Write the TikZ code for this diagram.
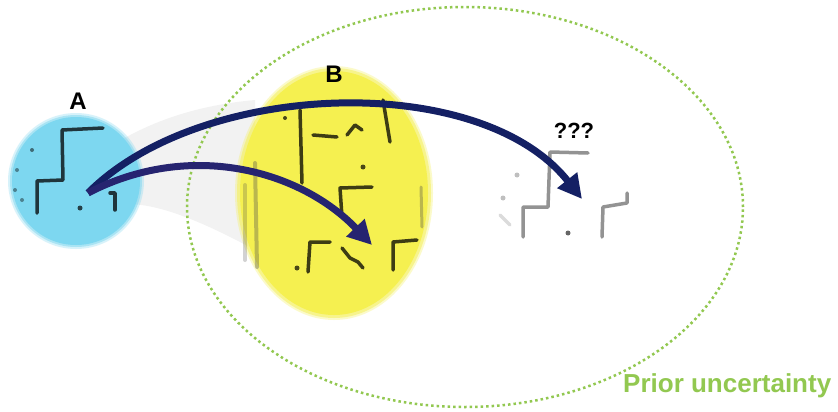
\documentclass[tikz,border=0pt]{standalone}
\usepackage{fontspec}
\setmainfont{Liberation Sans}
\usetikzlibrary{arrows.meta,shapes.geometric}
\definecolor{cyanA}{RGB}{125,215,240}
\definecolor{yellowB}{RGB}{245,240,80}
\definecolor{priorgreen}{RGB}{146,200,80}
\definecolor{navyA}{RGB}{20,32,100}
\definecolor{navyB}{RGB}{38,36,112}
\tikzset{
  stroke/.style={draw=black,line width=3.5pt,line cap=round,line join=round,opacity=0.75},
  faintstroke/.style={draw=black!70,line width=3.5pt,line cap=round,line join=round,opacity=0.7},
  bigarrow/.style={line width=7pt,-{Triangle[length=24pt,width=24pt]}},
  lbl/.style={font=\bfseries\fontsize{24}{26}\selectfont,inner sep=0pt}
}
\begin{document}
\begin{tikzpicture}[x=1pt,y=-1pt]
\useasboundingbox (0,0) rectangle (838,412);
\fill[white] (0,0) rectangle (838,412);
% faint grey wedge
\fill[black,opacity=0.05] (105,150) .. controls (150,120) and (200,105) .. (255,100) -- (255,250) .. controls (200,220) and (150,200) .. (120,205) -- cycle;
% node A (blurred circle)
\fill[cyanA,opacity=0.3] (76,181) circle (68);
\fill[cyanA,opacity=0.5] (76,181) circle (66);
\node[circle,fill=cyanA,minimum size=128pt,inner sep=0pt] (nodeA) at (76,181) {};
% node B (blurred ellipse)
\fill[yellowB,opacity=0.3] (334,193) ellipse (99 and 127);
\fill[yellowB,opacity=0.5] (334,193) ellipse (97 and 125);
\node[ellipse,fill=yellowB,minimum width=188pt,minimum height=244pt,inner sep=0pt] (nodeB) at (334,193) {};
% strokes in A
\draw[stroke] (103,128) -- (62,130) -- (63,180) -- (37,181) -- (37,213);
\draw[stroke] (110,193) -- (115,193) -- (115,210);
\fill[black,opacity=0.7] (80,208) circle (2.5);
\fill[black,opacity=0.5] (32,150) circle (2);
\fill[black,opacity=0.4] (17,170) circle (2);
\fill[black,opacity=0.4] (15,190) circle (2);
\fill[black,opacity=0.4] (22,200) circle (2);
% strokes in B
\draw[stroke] (300,110) -- (302,183);
\fill[black,opacity=0.7] (285,118) circle (2);
\draw[stroke] (313,135) -- (337,137);
\draw[stroke] (347,135) -- (355,125) -- (362,130);
\draw[stroke] (383,100) -- (390,142);
\fill[black,opacity=0.7] (363,167) circle (2.5);
\draw[stroke] (372,187) -- (340,188) -- (342,217);
\draw[stroke] (330,242) -- (310,242) -- (308,272);
\fill[black,opacity=0.7] (297,268) circle (2.5);
\draw[stroke] (342,248) -- (350,258) -- (358,262) -- (363,268);
\draw[stroke] (417,240) -- (393,242) -- (393,270);
\draw[faintstroke,opacity=0.35,line width=4pt] (255,163) -- (257,267);
\draw[faintstroke,opacity=0.25,line width=4pt] (245,185) -- (245,260);
\draw[faintstroke,opacity=0.35,line width=3pt] (421,187) -- (422,227);
% strokes at ???
\draw[faintstroke,opacity=0.6] (588,153) -- (550,152) -- (548,207) -- (523,207) -- (523,237);
\draw[faintstroke,opacity=0.6] (627,193) -- (627,203) -- (603,207) -- (602,237);
\fill[black,opacity=0.6] (568,233) circle (2.5);
\fill[black,opacity=0.25] (517,175) circle (2.5);
\fill[black,opacity=0.25] (503,198) circle (2.5);
\draw[faintstroke,opacity=0.2] (500,215) -- (510,225);
% prior uncertainty ellipse
\node[ellipse,draw=priorgreen,line width=2.5pt,dash pattern=on 2.5pt off 3pt,minimum width=556pt,minimum height=400pt,inner sep=0pt] (prior) at (465,207) {};
% arrows
\coordinate (start) at (88,193);
\coordinate (endB) at (372,245);
\coordinate (endQ) at (582,199);
\draw[bigarrow,navyA] (start) .. controls (200,80) and (480,70) .. (endQ);
\draw[bigarrow,navyB] (start) .. controls (190,140) and (300,170) .. (endB);
% labels
\node[lbl] (labA) at (78,101) {A};
\node[lbl] (labB) at (334,74) {B};
\node[lbl,font=\bfseries\fontsize{22}{24}\selectfont] (labQ) at (574,131) {???};
\node[lbl,text=priorgreen,anchor=base west,font=\bfseries\fontsize{26}{28}\selectfont] (labP) at (623,392) {Prior uncertainty};
\end{tikzpicture}
\end{document}
